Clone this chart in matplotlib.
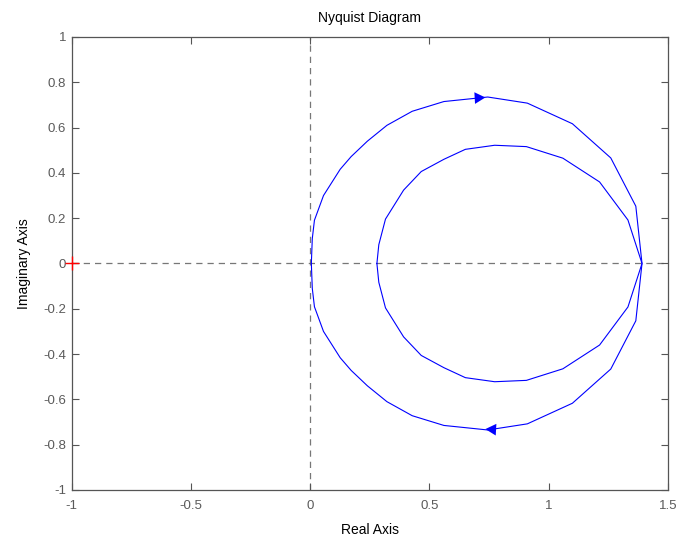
import numpy as np
import matplotlib
matplotlib.use("Agg")
import matplotlib.pyplot as plt

plt.rcParams['font.family'] = ['Liberation Sans', 'DejaVu Sans']

# Positive-frequency branch: outer upper arc (left -> right), then inner lower arc (right -> left)
re_pos = [0.005, 0.009, 0.018, 0.056, 0.126, 0.172, 0.240, 0.322, 0.428, 0.561, 0.745,
          0.911, 1.100, 1.261, 1.366, 1.392,
          1.333, 1.214, 1.060, 0.907, 0.774, 0.651, 0.561, 0.466, 0.392, 0.316, 0.288, 0.280]
im_pos = [0.000, 0.110, 0.191, 0.300, 0.416, 0.472, 0.540, 0.610, 0.672, 0.715, 0.735,
          0.708, 0.617, 0.466, 0.253, 0.000,
          -0.192, -0.360, -0.465, -0.516, -0.522, -0.504, -0.460, -0.406, -0.324, -0.196, -0.083, 0.000]

xticks = [-1, -0.5, 0, 0.5, 1, 1.5]
xtick_labels = ['-1', '-0.5', '0', '0.5', '1', '1.5']
yticks = [-1, -0.8, -0.6, -0.4, -0.2, 0, 0.2, 0.4, 0.6, 0.8, 1]
ytick_labels = ['-1', '-0.8', '-0.6', '-0.4', '-0.2', '0', '0.2', '0.4', '0.6', '0.8', '1']

re_pos = np.array(re_pos)
im_pos = np.array(im_pos)

fig = plt.figure(figsize=(6.8, 5.4), dpi=100)
ax = fig.add_axes([0.1055, 0.0926, 0.8765, 0.8389])

grey = '#555555'
ax.axhline(0, color='#777777', lw=0.9, ls=(0, (5, 4)), zorder=1)
ax.axvline(0, color='#777777', lw=0.9, ls=(0, (5, 4)), zorder=1)

ax.plot(re_pos, im_pos, color='#0000ff', lw=0.8, zorder=3)
ax.plot(re_pos, -im_pos, color='#0000ff', lw=0.8, zorder=3)

# arrows on the outer arcs near the top/bottom
xa, ya = 0.705, 0.732
ax.annotate('', xy=(xa + 0.03, ya + 0.001), xytext=(xa - 0.02, ya - 0.002),
            arrowprops=dict(arrowstyle='-|>,head_length=0.55,head_width=0.3', color='#0000ff', lw=0.0,
                            mutation_scale=14, shrinkA=0, shrinkB=0), zorder=4)
xb, yb = 0.765, -0.732
ax.annotate('', xy=(xb - 0.03, yb + 0.001), xytext=(xb + 0.02, yb - 0.002),
            arrowprops=dict(arrowstyle='-|>,head_length=0.55,head_width=0.3', color='#0000ff', lw=0.0,
                            mutation_scale=14, shrinkA=0, shrinkB=0), zorder=4)

ax.plot([-1], [0], marker='+', color='red', ms=10, mew=1.0, zorder=5, clip_on=False)

ax.set_xlim(-1, 1.5)
ax.set_ylim(-1, 1)
ax.set_xticks(xticks)
ax.set_xticklabels(xtick_labels)
ax.set_yticks(yticks)
ax.set_yticklabels(ytick_labels)
ax.tick_params(direction='in', top=True, right=True, length=5, width=0.8,
               colors=grey, labelsize=9.5, labelcolor='#5a5a5a')
ax.tick_params(axis='x', pad=7.5)
ax.tick_params(axis='y', pad=4)
for s in ax.spines.values():
    s.set_color(grey)
    s.set_linewidth(0.9)

ax.set_title('Nyquist Diagram', fontsize=10, pad=11)
ax.set_xlabel('Real Axis', fontsize=10, labelpad=7.5)
ax.set_ylabel('Imaginary Axis', fontsize=10, labelpad=9)

fig.savefig('out.png', dpi=100)
